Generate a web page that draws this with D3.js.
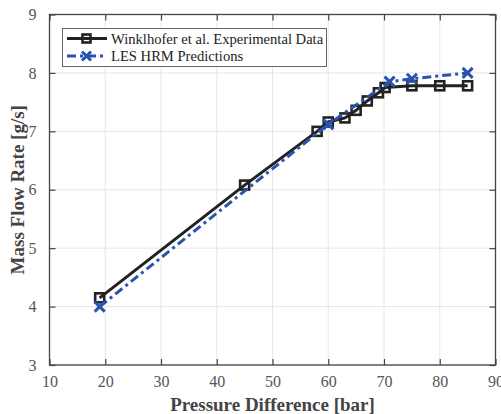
<!DOCTYPE html>
<meta charset="utf-8">
<style>
  body { margin: 0; background: #fff; }
  text { font-family: "Liberation Serif", "DejaVu Serif", serif; }
  .tick text { fill: #555; font-size: 16px; }
  .axislabel { fill: #444; font-size: 19px; font-weight: bold; }
</style>
<body>
<svg id="chart" width="501" height="414"></svg>
<script src="https://cdnjs.cloudflare.com/ajax/libs/d3/7.8.5/d3.min.js"></script>
<script>
  // measured data (pressure difference in bar, mass flow in g/s)
  var expPressure = [19, 45, 58, 60, 63, 65, 67, 69, 70.2, 75, 80, 85];
  var expFlow     = [4.15, 6.08, 7.0, 7.16, 7.23, 7.36, 7.52, 7.66, 7.75, 7.78, 7.78, 7.78];
  var lesPressure = [19, 60, 71, 75, 85];
  var lesFlow     = [4.0, 7.12, 7.85, 7.9, 8.0];
  var xTicks = [10, 20, 30, 40, 50, 60, 70, 80, 90];
  var yTicks = [3, 4, 5, 6, 7, 8, 9];
  var seriesNames = ["Winklhofer et al. Experimental Data", "LES HRM Predictions"];

  var svg = d3.select("#chart"),
      margin = {top: 14.5, right: 5.5, bottom: 49, left: 49.5},
      width = +svg.attr("width") - margin.left - margin.right,
      height = +svg.attr("height") - margin.top - margin.bottom;

  var g = svg.append("g").attr("transform", "translate(" + margin.left + "," + margin.top + ")");

  var x = d3.scaleLinear().domain([10, 90]).range([0, width]);
  var y = d3.scaleLinear().domain([3, 9]).range([height, 0]);

  // grid
  g.append("g").selectAll("line").data(xTicks).enter().append("line")
    .attr("x1", d => x(d)).attr("x2", d => x(d)).attr("y1", 0).attr("y2", height)
    .attr("stroke", "#e6e6e6").attr("stroke-width", 1);
  g.append("g").selectAll("line").data(yTicks).enter().append("line")
    .attr("y1", d => y(d)).attr("y2", d => y(d)).attr("x1", 0).attr("x2", width)
    .attr("stroke", "#e6e6e6").attr("stroke-width", 1);

  function styleAxis(sel) {
    sel.attr("font-family", null).attr("font-size", null);
    sel.select(".domain").remove();
    sel.selectAll(".tick line").attr("stroke", "#444").attr("stroke-width", 1.2);
  }

  g.append("g").attr("transform", "translate(0," + height + ")")
    .call(d3.axisBottom(x).tickValues(xTicks).tickFormat(d3.format("d")).tickSizeInner(-6).tickSizeOuter(0).tickPadding(10))
    .call(styleAxis)
    .selectAll("text").attr("dy", "0.75em");
  g.append("g")
    .call(d3.axisTop(x).tickValues(xTicks).tickSizeInner(-6).tickSizeOuter(0).tickFormat(""))
    .call(styleAxis);
  g.append("g")
    .call(d3.axisLeft(y).tickValues(yTicks).tickFormat(d3.format("d")).tickSizeInner(-6).tickSizeOuter(0).tickPadding(13))
    .call(styleAxis);
  g.append("g").attr("transform", "translate(" + width + ",0)")
    .call(d3.axisRight(y).tickValues(yTicks).tickSizeInner(-6).tickSizeOuter(0).tickFormat(""))
    .call(styleAxis);
  g.selectAll(".tick text").style("font-family", "'Liberation Serif', serif");

  g.append("rect").attr("width", width).attr("height", height)
    .attr("fill", "none").attr("stroke", "#444").attr("stroke-width", 1.3);

  var line = d3.line().x(d => x(d[0])).y(d => y(d[1]));
  var expData = d3.zip(expPressure, expFlow);
  var lesData = d3.zip(lesPressure, lesFlow);

  var blue = "#2a52b0", black = "#222";

  g.append("path").datum(expData).attr("d", line)
    .attr("fill", "none").attr("stroke", black).attr("stroke-width", 3);
  g.selectAll(".sq").data(expData).enter().append("rect").attr("class", "sq")
    .attr("x", d => x(d[0]) - 4.5).attr("y", d => y(d[1]) - 4.5)
    .attr("width", 9).attr("height", 9)
    .attr("fill", "none").attr("stroke", black).attr("stroke-width", 2.6);

  g.append("path").datum(lesData).attr("d", line)
    .attr("fill", "none").attr("stroke", blue).attr("stroke-width", 3)
    .attr("stroke-dasharray", "9,4,3,4");
  function cross(sel, s) {
    sel.append("path")
      .attr("d", "M" + (-s) + "," + (-s) + "L" + s + "," + s + "M" + (-s) + "," + s + "L" + s + "," + (-s))
      .attr("stroke", blue).attr("stroke-width", 3).attr("fill", "none");
  }
  g.selectAll(".xm").data(lesData).enter().append("g").attr("class", "xm")
    .attr("transform", d => "translate(" + x(d[0]) + "," + y(d[1]) + ")")
    .call(cross, 5);

  // legend
  var lg = svg.append("g");
  lg.append("rect").attr("x", 62.5).attr("y", 28.5).attr("width", 264).attr("height", 38)
    .attr("fill", "#fff").attr("stroke", "#666").attr("stroke-width", 1);
  lg.append("line").attr("x1", 67).attr("x2", 107).attr("y1", 38.5).attr("y2", 38.5)
    .attr("stroke", black).attr("stroke-width", 3);
  lg.append("rect").attr("x", 82.5).attr("y", 34.5).attr("width", 8).attr("height", 8)
    .attr("fill", "none").attr("stroke", black).attr("stroke-width", 2.6);
  lg.append("line").attr("x1", 67).attr("x2", 107).attr("y1", 56).attr("y2", 56)
    .attr("stroke", blue).attr("stroke-width", 3).attr("stroke-dasharray", "9,4,3,4");
  lg.append("g").attr("transform", "translate(86.5,56)").call(cross, 4.5);
  lg.selectAll(".lt").data(seriesNames).enter().append("text").attr("class", "lt")
    .attr("x", 111).attr("y", (d, i) => 38.5 + i * 17.5).attr("dy", "0.35em")
    .attr("font-size", "14.6px").attr("fill", "#222").text(d => d);

  svg.append("text").attr("class", "axislabel")
    .attr("x", margin.left + width / 2).attr("y", 411)
    .attr("text-anchor", "middle").text("Pressure Difference [bar]");
  svg.append("text").attr("class", "axislabel")
    .attr("transform", "translate(24," + (margin.top + height / 2) + ") rotate(-90)")
    .attr("text-anchor", "middle").text("Mass Flow Rate [g/s]");
</script>
</body>
